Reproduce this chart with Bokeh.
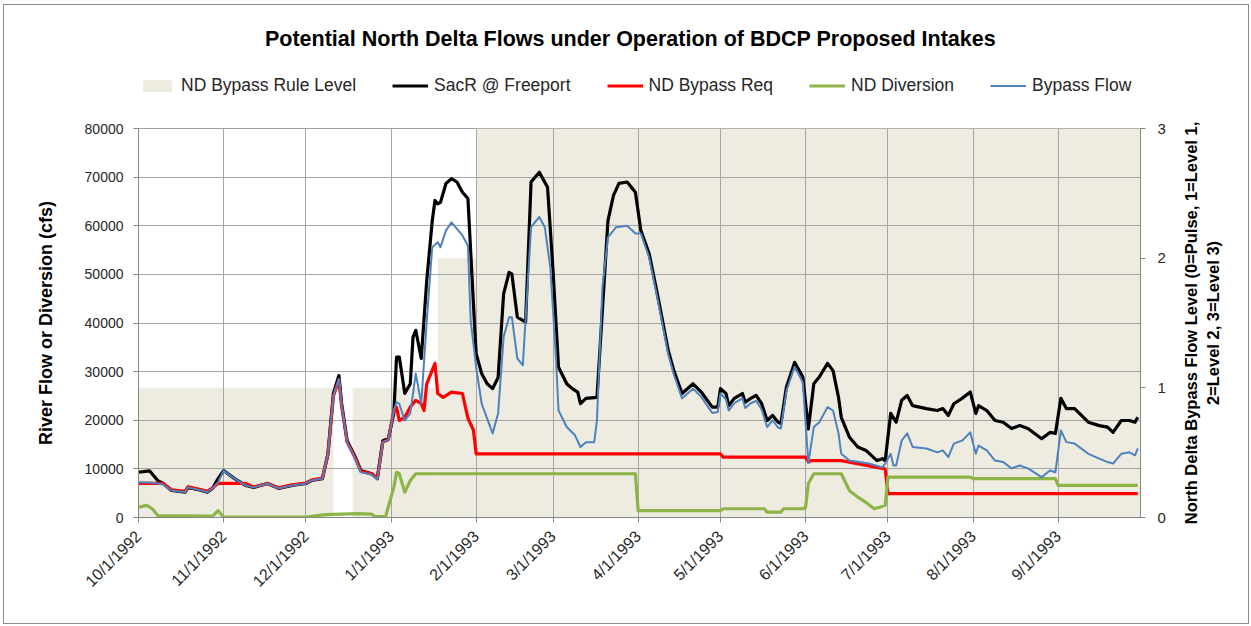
import math
import pandas as pd
from bokeh.plotting import figure
from bokeh.layouts import column, row
from bokeh.models import (Range1d, LinearAxis, FixedTicker, CustomJSTickFormatter,
                          Legend, LegendItem, NumeralTickFormatter, Label)
from bokeh.embed import file_html
from bokeh.resources import INLINE

FONT = "Liberation Sans"
TXT = "#262626"
C_RULE, C_SAC, C_REQ, C_DIV, C_BYP = "#EEECE1", "black", "#FF0000", "#8DB446", "#4F81BD"

# ---------------- data ----------------
title_text = "Potential North Delta Flows under Operation of BDCP Proposed Intakes"
left_title = "River Flow or Diversion (cfs)"
right_title = "North Delta Bypass Flow Level (0=Pulse, 1=Level 1,\n2=Level 2, 3=Level 3)"
series_names = ["ND Bypass Rule Level", "SacR @ Freeport", "ND Bypass Req", "ND Diversion", "Bypass Flow"]
month_ticks = ["1992-10-01", "1992-11-01", "1992-12-01", "1993-01-01", "1993-02-01", "1993-03-01",
               "1993-04-01", "1993-05-01", "1993-06-01", "1993-07-01", "1993-08-01", "1993-09-01"]
flow_ticks = [0, 10000, 20000, 30000, 40000, 50000, 60000, 70000, 80000]
level_ticks = [0, 1, 2, 3]

# ND Bypass Rule Level (0=Pulse, 1=Level 1, 2=Level 2, 3=Level 3)
rule_start = ["1992-10-01", "1992-12-11", "1992-12-18", "1993-01-18", "1993-02-01"]
rule_end = ["1992-12-11", "1992-12-18", "1993-01-18", "1993-02-01", "1993-10-01"]
rule_level = [1, 0, 1, 2, 3]

# SacR @ Freeport (cfs)
sac_dates = ["1992-10-01", "1992-10-05", "1992-10-08", "1992-10-10", "1992-10-13", "1992-10-18", "1992-10-19",
             "1992-10-24", "1992-10-26", "1992-10-28", "1992-10-30", "1992-11-01", "1992-11-05", "1992-11-09",
             "1992-11-12", "1992-11-17", "1992-11-21", "1992-11-26", "1992-12-01", "1992-12-03", "1992-12-07",
             "1992-12-09", "1992-12-11", "1992-12-13", "1992-12-14", "1992-12-16", "1992-12-19", "1992-12-21",
             "1992-12-25", "1992-12-27", "1992-12-29", "1992-12-31", "1993-01-02", "1993-01-03", "1993-01-04",
             "1993-01-06", "1993-01-08", "1993-01-09", "1993-01-10", "1993-01-12", "1993-01-14", "1993-01-16",
             "1993-01-17", "1993-01-18", "1993-01-19", "1993-01-21", "1993-01-23", "1993-01-25", "1993-01-27",
             "1993-01-29", "1993-01-31", "1993-02-01", "1993-02-03", "1993-02-05", "1993-02-07", "1993-02-09",
             "1993-02-11", "1993-02-13", "1993-02-14", "1993-02-16", "1993-02-19", "1993-02-21", "1993-02-24",
             "1993-02-27", "1993-03-01", "1993-03-03", "1993-03-06", "1993-03-08", "1993-03-10", "1993-03-11",
             "1993-03-13", "1993-03-17", "1993-03-18", "1993-03-21", "1993-03-23", "1993-03-25", "1993-03-28",
             "1993-03-31", "1993-04-02", "1993-04-05", "1993-04-08", "1993-04-12", "1993-04-14", "1993-04-17",
             "1993-04-21", "1993-04-24", "1993-04-28", "1993-04-30", "1993-05-01", "1993-05-03", "1993-05-04",
             "1993-05-06", "1993-05-09", "1993-05-10", "1993-05-12", "1993-05-14", "1993-05-16", "1993-05-18",
             "1993-05-20", "1993-05-22", "1993-05-23", "1993-05-25", "1993-05-28", "1993-05-31", "1993-06-02",
             "1993-06-04", "1993-06-06", "1993-06-09", "1993-06-11", "1993-06-13", "1993-06-14", "1993-06-17",
             "1993-06-20", "1993-06-23", "1993-06-27", "1993-06-29", "1993-06-30", "1993-07-02", "1993-07-04",
             "1993-07-06", "1993-07-08", "1993-07-10", "1993-07-15", "1993-07-19", "1993-07-21", "1993-07-23",
             "1993-07-25", "1993-07-28", "1993-07-31", "1993-08-02", "1993-08-03", "1993-08-06", "1993-08-09",
             "1993-08-12", "1993-08-15", "1993-08-18", "1993-08-21", "1993-08-26", "1993-08-29", "1993-08-31",
             "1993-09-02", "1993-09-04", "1993-09-07", "1993-09-12", "1993-09-16", "1993-09-19", "1993-09-21",
             "1993-09-24", "1993-09-27", "1993-09-29", "1993-09-30"]
sac_flow = [9300, 9600, 7600, 7000, 5550, 5200, 6200,
            5550, 5200, 6000, 8000, 9650, 8000, 6600,
            6200, 7000, 6000, 6600, 7000, 7600, 8000,
            13100, 25500, 29200, 23400, 15800, 12400, 9650,
            9000, 8000, 15800, 16200, 21400, 33000, 33000,
            25500, 27500, 37100, 38500, 32700, 48700, 61000,
            65200, 64500, 64800, 68700, 69700, 69000, 66900,
            65600, 44000, 33700, 29600, 27500, 26500, 28800,
            46000, 50400, 50100, 41200, 40200, 69000, 71000,
            67900, 50800, 30900, 27500, 26500, 25800, 23400,
            24500, 24700, 33700, 61000, 66200, 68700, 69000,
            66900, 59000, 54300, 46000, 34300, 30200, 25500,
            27500, 25800, 22700, 22700, 26500, 25500, 23000,
            24500, 25500, 23700, 24500, 25100, 23400, 19950,
            21000, 19600, 19300, 26800, 31900, 28900, 18200,
            27500, 28900, 31700, 30200, 24700, 20600, 16500,
            14500, 13800, 11700, 12100, 11700, 21400, 19600,
            24100, 25100, 23000, 22400, 22000, 22400, 21000,
            23400, 24500, 25800, 21400, 23000, 22000, 19950,
            19600, 18300, 18900, 18300, 16200, 17500, 17300,
            24500, 22400, 22400, 19600, 18900, 18600, 17500,
            19950, 19950, 19600, 20600]

# ND Bypass Req (cfs)
req_dates = ["1992-10-01", "1992-10-10", "1992-10-13", "1992-10-18", "1992-10-19", "1992-10-24", "1992-10-26",
             "1992-10-28", "1992-10-30", "1992-11-09", "1992-11-12", "1992-11-17", "1992-11-21", "1992-11-26",
             "1992-12-01", "1992-12-03", "1992-12-07", "1992-12-09", "1992-12-11", "1992-12-13", "1992-12-14",
             "1992-12-16", "1992-12-19", "1992-12-21", "1992-12-25", "1992-12-27", "1992-12-29", "1992-12-31",
             "1993-01-02", "1993-01-03", "1993-01-04", "1993-01-06", "1993-01-08", "1993-01-10", "1993-01-12",
             "1993-01-13", "1993-01-14", "1993-01-17", "1993-01-18", "1993-01-20", "1993-01-23", "1993-01-27",
             "1993-01-29", "1993-01-31", "1993-02-01", "1993-05-01", "1993-05-02", "1993-06-01", "1993-06-02",
             "1993-06-03", "1993-06-14", "1993-06-30", "1993-07-01", "1993-09-30"]
req_flow = [7000, 7000, 5700, 5400, 6300, 5700, 5400,
            6100, 7000, 7000, 6300, 7000, 6100, 6700,
            7100, 7700, 8100, 13000, 25000, 28300, 23000,
            15500, 12200, 9500, 9000, 8000, 15500, 16000,
            22000, 22700, 19950, 20600, 22700, 24100, 23400,
            22000, 27500, 31700, 25500, 24700, 25800, 25500,
            20400, 18000, 13100, 13100, 12400, 12400, 11400,
            11700, 11700, 10000, 4900, 4900]

# ND Diversion (cfs)
div_dates = ["1992-10-01", "1992-10-04", "1992-10-06", "1992-10-08", "1992-10-28", "1992-10-30", "1992-11-01",
             "1992-12-01", "1992-12-08", "1992-12-20", "1992-12-25", "1992-12-26", "1992-12-30", "1993-01-02",
             "1993-01-03", "1993-01-04", "1993-01-06", "1993-01-08", "1993-01-10", "1993-03-31", "1993-04-01",
             "1993-05-01", "1993-05-02", "1993-05-17", "1993-05-18", "1993-05-23", "1993-05-24", "1993-05-31",
             "1993-06-01", "1993-06-02", "1993-06-04", "1993-06-14", "1993-06-17", "1993-06-20", "1993-06-23",
             "1993-06-26", "1993-06-28", "1993-06-30", "1993-07-01", "1993-07-31", "1993-08-01", "1993-08-31",
             "1993-09-01", "1993-09-30"]
div_flow = [2100, 2500, 1800, 400, 300, 1400, 100,
            100, 600, 800, 700, 200, 200, 6200,
            9300, 9000, 5200, 7600, 9000, 9000, 1400,
            1400, 1800, 1800, 1100, 1100, 1800, 1800,
            2100, 7000, 9000, 9000, 5500, 4200, 3100,
            1800, 2100, 2500, 8300, 8300, 8000, 8000,
            6600, 6600]

# Bypass Flow (cfs)
byp_dates = ["1992-10-01", "1992-10-05", "1992-10-08", "1992-10-10", "1992-10-13", "1992-10-18", "1992-10-19",
             "1992-10-24", "1992-10-26", "1992-10-28", "1992-10-30", "1992-11-01", "1992-11-05", "1992-11-09",
             "1992-11-12", "1992-11-17", "1992-11-21", "1992-11-26", "1992-12-01", "1992-12-03", "1992-12-07",
             "1992-12-09", "1992-12-11", "1992-12-13", "1992-12-14", "1992-12-16", "1992-12-19", "1992-12-21",
             "1992-12-25", "1992-12-27", "1992-12-29", "1992-12-31", "1993-01-02", "1993-01-03", "1993-01-04",
             "1993-01-06", "1993-01-08", "1993-01-10", "1993-01-12", "1993-01-14", "1993-01-16", "1993-01-18",
             "1993-01-19", "1993-01-21", "1993-01-23", "1993-01-27", "1993-01-29", "1993-01-30", "1993-02-01",
             "1993-02-03", "1993-02-07", "1993-02-09", "1993-02-11", "1993-02-13", "1993-02-14", "1993-02-16",
             "1993-02-18", "1993-02-21", "1993-02-24", "1993-02-26", "1993-02-28", "1993-03-02", "1993-03-03",
             "1993-03-06", "1993-03-09", "1993-03-11", "1993-03-13", "1993-03-16", "1993-03-17", "1993-03-19",
             "1993-03-21", "1993-03-24", "1993-03-28", "1993-03-31", "1993-04-02", "1993-04-05", "1993-04-08",
             "1993-04-12", "1993-04-14", "1993-04-17", "1993-04-21", "1993-04-24", "1993-04-28", "1993-04-30",
             "1993-05-01", "1993-05-03", "1993-05-04", "1993-05-06", "1993-05-09", "1993-05-10", "1993-05-12",
             "1993-05-14", "1993-05-16", "1993-05-18", "1993-05-20", "1993-05-22", "1993-05-23", "1993-05-25",
             "1993-05-28", "1993-05-31", "1993-06-02", "1993-06-04", "1993-06-06", "1993-06-09", "1993-06-11",
             "1993-06-13", "1993-06-14", "1993-06-17", "1993-06-24", "1993-06-29", "1993-06-30", "1993-07-02",
             "1993-07-03", "1993-07-04", "1993-07-06", "1993-07-08", "1993-07-10", "1993-07-15", "1993-07-19",
             "1993-07-21", "1993-07-23", "1993-07-25", "1993-07-28", "1993-07-31", "1993-08-02", "1993-08-03",
             "1993-08-06", "1993-08-09", "1993-08-12", "1993-08-15", "1993-08-18", "1993-08-21", "1993-08-26",
             "1993-08-29", "1993-08-31", "1993-09-02", "1993-09-04", "1993-09-07", "1993-09-12", "1993-09-16",
             "1993-09-19", "1993-09-21", "1993-09-24", "1993-09-27", "1993-09-29", "1993-09-30"]
byp_flow = [7200, 7200, 7000, 6800, 5550, 5200, 6200,
            5550, 5200, 6000, 7250, 9650, 8000, 6600,
            6200, 7000, 6000, 6600, 7000, 7600, 8000,
            13100, 25000, 28500, 23000, 15500, 12000, 9300,
            8800, 7800, 15500, 16000, 22000, 23700, 23400,
            19950, 21400, 29600, 23400, 40500, 55600, 56600,
            55600, 59000, 60700, 58000, 55900, 40500, 30900,
            23400, 17300, 21400, 37100, 41200, 41200, 32700,
            31300, 59700, 61800, 59700, 51500, 33700, 22000,
            18600, 16900, 14500, 15500, 15500, 19950, 47400,
            57600, 59700, 60000, 58400, 58400, 53500, 45200,
            33500, 29400, 24500, 26500, 24800, 21500, 21700,
            25500, 24300, 22000, 23500, 24500, 22500, 23500,
            24000, 22200, 18600, 20000, 18500, 18300, 26000,
            31000, 27800, 11200, 18600, 19600, 22700, 22000,
            17300, 13100, 11700, 11100, 10300, 11100, 13100,
            10700, 10700, 15800, 17300, 14500, 14200, 13400,
            13800, 12400, 15200, 15800, 17500, 13100, 14800,
            13800, 11700, 11400, 10100, 10700, 10100, 8300,
            9650, 9300, 17900, 15500, 15200, 13100, 12100,
            11400, 11100, 13100, 13400, 12800, 14200]

# ---------------- sizes ----------------
W = 1244          # total inner width
HEAD_H = 110
MAIN_H = 508
MAIN_W = 1166     # main plot canvas width
SIDE_W = W - MAIN_W

# ---------------- header (title + legend) ----------------
head = figure(width=W, height=HEAD_H, output_backend="svg", toolbar_location=None, title=None,
              x_range=Range1d(0, 1), y_range=Range1d(0, 1), x_axis_location=None, y_axis_location=None,
              min_border_left=134, min_border_right=108, min_border_top=0, min_border_bottom=0)
head.grid.visible = False
head.outline_line_color = None
head.background_fill_color = "white"
head.border_fill_color = "white"

# legend swatches: zero-size proxies styled like the series in the main plot
h_rule = head.quad(left=[0], right=[0], bottom=[0], top=[0], fill_color=C_RULE, line_color=None)
h_sac = head.line(x=[0], y=[0], line_color=C_SAC, line_width=3.2)
h_req = head.line(x=[0], y=[0], line_color=C_REQ, line_width=3.2)
h_div = head.line(x=[0], y=[0], line_color=C_DIV, line_width=3.2)
h_byp = head.line(x=[0], y=[0], line_color=C_BYP, line_width=2)

head.add_layout(Label(x=492, y=77, x_units="screen", y_units="screen", text=title_text,
                      text_align="center", text_baseline="middle", text_font=FONT,
                      text_font_size="21.5px", text_font_style="bold", text_color="black"))

legend = Legend(items=[LegendItem(label=n, renderers=[r]) for n, r in
                       zip(series_names, [h_rule, h_sac, h_req, h_div, h_byp])],
                orientation="horizontal", location=(1, 19),
                border_line_color=None, background_fill_alpha=0,
                label_text_font=FONT, label_text_font_size="17.5px", label_text_color=TXT,
                glyph_width=36, glyph_height=15, label_height=20, label_standoff=6, spacing=36,
                padding=0, margin=0)
head.add_layout(legend)

# ---------------- main plot ----------------
p = figure(width=MAIN_W, height=MAIN_H, x_axis_type="datetime", output_backend="svg", toolbar_location=None,
           title=None,
           x_range=Range1d(pd.Timestamp("1992-10-01"), pd.Timestamp("1993-10-01")),
           y_range=Range1d(0, 80000),
           min_border_left=134, min_border_right=30, min_border_top=13, min_border_bottom=106)
p.extra_y_ranges = {"level": Range1d(0, 3)}
p.background_fill_color = "white"
p.border_fill_color = "white"
p.outline_line_color = "#A0A0A0"

p.quad(left=pd.to_datetime(rule_start), right=pd.to_datetime(rule_end), bottom=0, top=rule_level,
       y_range_name="level", fill_color=C_RULE, line_color=None, level="image")
p.line(pd.to_datetime(sac_dates), sac_flow, line_color=C_SAC, line_width=3.2, line_join="round")
p.line(pd.to_datetime(req_dates), req_flow, line_color=C_REQ, line_width=3.2, line_join="round")
p.line(pd.to_datetime(div_dates), div_flow, line_color=C_DIV, line_width=3.2, line_join="round")
p.line(pd.to_datetime(byp_dates), byp_flow, line_color=C_BYP, line_width=2, line_join="round")

# x axis
xt = FixedTicker(ticks=[pd.Timestamp(m).value // 10**6 for m in month_ticks])
p.xaxis.ticker = xt
p.xgrid.ticker = xt
p.xaxis.formatter = CustomJSTickFormatter(code="""
const d = new Date(tick);
return (d.getUTCMonth() + 1) + "/" + d.getUTCDate() + "/" + d.getUTCFullYear();
""")
p.xaxis.major_label_orientation = math.pi / 4

# left axis
p.yaxis.ticker = FixedTicker(ticks=flow_ticks)
p.ygrid.ticker = FixedTicker(ticks=flow_ticks)
p.yaxis.formatter = NumeralTickFormatter(format="0")
p.yaxis.axis_label = left_title

# right axis (ticks only; its title sits in the narrow strip to the right)
ra = LinearAxis(y_range_name="level", ticker=FixedTicker(ticks=level_ticks))
p.add_layout(ra, "right")

for ax in [p.xaxis[0], p.yaxis[0], ra]:
    ax.axis_line_color = "#868686"
    ax.major_tick_line_color = "#868686"
    ax.major_tick_out = 5
    ax.major_tick_in = 0
    ax.minor_tick_line_color = None
    ax.major_label_text_font = FONT
    ax.major_label_text_color = TXT
    ax.axis_label_text_font = FONT
    ax.axis_label_text_color = "black"
    ax.axis_label_text_font_style = "bold"

p.xaxis.major_label_text_font_size = "16px"
p.xaxis.major_label_standoff = 11
p.yaxis.major_label_text_font_size = "14px"
p.yaxis.major_label_standoff = 10
p.yaxis.axis_label_text_font_size = "18px"
p.yaxis.axis_label_standoff = 26
ra.major_label_text_font_size = "15px"
ra.major_label_standoff = 12

for g in [p.xgrid[0], p.ygrid[0]]:
    g.grid_line_color = "#A6A6A6"
    g.grid_line_width = 1

# ---------------- right strip holding the secondary axis title ----------------
side = figure(width=SIDE_W, height=MAIN_H, output_backend="svg", toolbar_location=None, title=None,
              x_range=Range1d(0, 1), y_range=Range1d(0, 1), x_axis_location=None, y_axis_location="left",
              min_border_left=51, min_border_right=0, min_border_top=13, min_border_bottom=106)
side.grid.visible = False
side.outline_line_color = None
side.background_fill_color = "white"
side.border_fill_color = "white"
sa = side.yaxis[0]
sa.ticker = FixedTicker(ticks=[])
sa.axis_line_color = None
sa.major_tick_line_color = None
sa.minor_tick_line_color = None
sa.major_tick_out = 0
sa.major_label_text_color = None
sa.axis_label = right_title
sa.axis_label_text_font = FONT
sa.axis_label_text_font_size = "16.5px"
sa.axis_label_text_font_style = "bold"
sa.axis_label_text_color = "black"
sa.axis_label_standoff = 0

page = column(head, row(p, side, spacing=0), spacing=0,
              styles={"border": "1px solid #8C8C8C", "margin-left": "3px", "margin-top": "4px"})
open("out.html", "w").write(file_html(page, INLINE))
